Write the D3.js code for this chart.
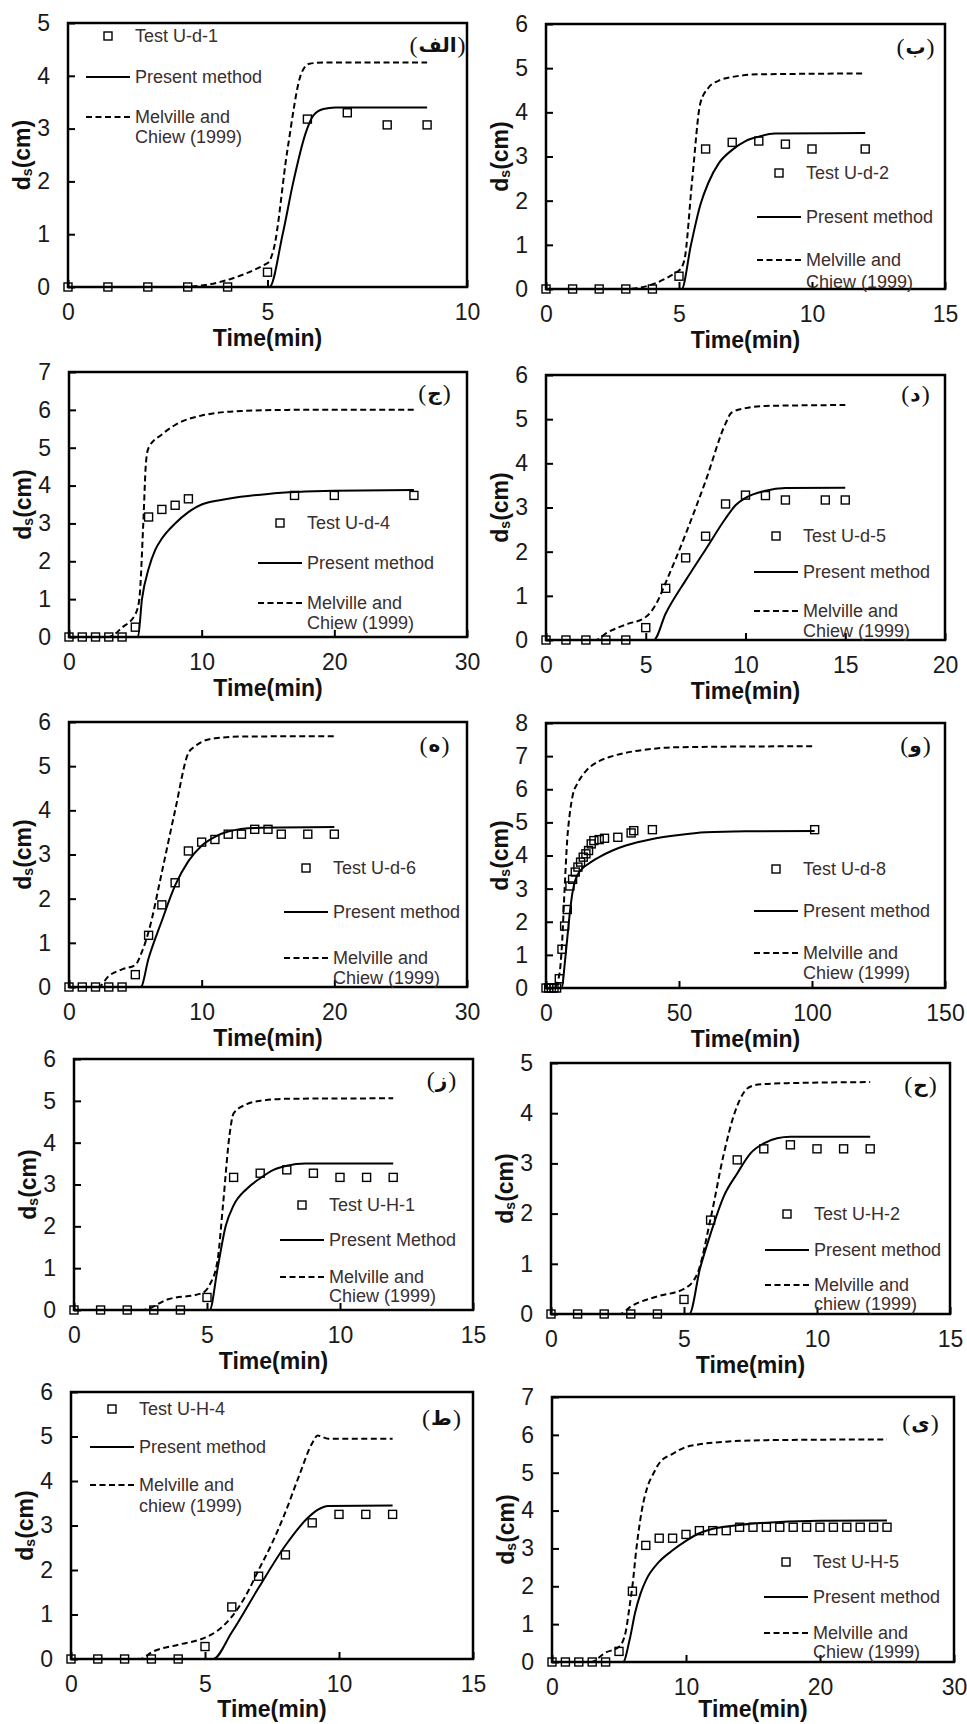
<!DOCTYPE html>
<html>
<head>
<meta charset="utf-8">
<script src="https://cdnjs.cloudflare.com/ajax/libs/d3/7.8.5/d3.min.js"></script>
<style>
  body { margin: 0; background: #fff; }
  text { font-family: "Liberation Sans", Arial, sans-serif; }
</style>
</head>
<body>
<svg id="fig"></svg>
<script>
// ---- data (time in min, depth in cm) ----
var p1Time = [0, 1, 2, 3, 4, 5, 6, 7, 8, 9];
var p1Test = [0, 0, 0, 0, 0, 0.28, 3.18, 3.3, 3.07, 3.07];
var p1Present = [[0,0],[5.05,0],[5.38,1],[5.65,2],[5.95,2.9],[6.15,3.25],[6.4,3.37],[6.7,3.4],[9,3.4]];
var p1Melville = [[0,0],[2.8,0],[5,0.45],[5.15,0.7],[5.5,2.6],[5.85,4.05],[6.05,4.23],[6.4,4.25],[9,4.25]];

var p2Time = [0, 1, 2, 3, 4, 5, 6, 7, 8, 9, 10, 12];
var p2Test = [0, 0, 0, 0, 0, 0.29, 3.17, 3.32, 3.35, 3.28, 3.17, 3.17];
var p2Present = [[0,0],[5.1,0],[5.45,1],[5.8,1.9],[6.1,2.4],[6.5,2.85],[7,3.15],[7.5,3.35],[8,3.45],[8.6,3.52],[12,3.53]];
var p2Melville = [[0,0],[3,0],[5,0.42],[5.2,0.65],[5.5,2.5],[5.8,4.2],[6.1,4.55],[6.5,4.72],[7,4.8],[8,4.86],[12,4.88]];

var p3Time = [0, 1, 2, 3, 4, 5, 6, 7, 8, 9, 17, 20, 26];
var p3Test = [0, 0, 0, 0, 0, 0.26, 3.17, 3.37, 3.48, 3.65, 3.74, 3.74, 3.74];
var p3Present = [[0,0],[5.2,0],[5.5,1],[6,1.8],[6.5,2.3],[7,2.6],[8,3],[9,3.3],[10,3.5],[12,3.65],[15,3.78],[20,3.86],[26,3.88]];
var p3Melville = [[0,0],[3,0],[4,0.25],[5,0.6],[5.3,1],[5.6,3],[5.8,4.6],[6,5],[7,5.35],[8,5.6],[10,5.85],[13,5.97],[17,6],[26,6]];

var p4Time = [0, 1, 2, 3, 4, 5, 6, 7, 8, 9, 10, 11, 12, 14, 15];
var p4Test = [0, 0, 0, 0, 0, 0.28, 1.17, 1.86, 2.35, 3.08, 3.28, 3.27, 3.17, 3.17, 3.17];
var p4Present = [[0,0],[5.4,0],[6,0.6],[7,1.35],[8,2.05],[9,2.75],[9.5,3.05],[10,3.22],[11,3.38],[12,3.44],[15,3.45]];
var p4Melville = [[0,0],[2.5,0],[3,0.15],[4,0.35],[5,0.52],[5.5,0.8],[6,1.3],[7,2.4],[8,3.6],[9,4.9],[9.3,5.15],[10,5.25],[11,5.3],[15,5.32]];

var p5Time = [0, 1, 2, 3, 4, 5, 6, 7, 8, 9, 10, 11, 12, 13, 14, 15, 16, 18, 20];
var p5Test = [0, 0, 0, 0, 0, 0.28, 1.17, 1.86, 2.36, 3.08, 3.28, 3.34, 3.46, 3.46, 3.57, 3.57, 3.46, 3.46, 3.46];
var p5Present = [[0,0],[5.4,0],[6,0.65],[7,1.5],[8,2.3],[9,2.85],[10,3.2],[11,3.4],[12,3.52],[14,3.6],[20,3.62]];
var p5Melville = [[0,0],[2.2,0],[3,0.25],[4,0.4],[5,0.5],[5.5,0.8],[6,1.25],[7,2.6],[8,4],[9,5.3],[9.5,5.45],[10,5.55],[11,5.63],[13,5.67],[20,5.68]];

var p6Time = [0, 1, 2, 3, 4, 5, 6, 7, 8, 9, 10, 11, 12, 13, 14, 15, 16, 17, 18, 20, 22, 27, 32, 33, 40, 101];
var p6Test = [0, 0, 0, 0, 0, 0.28, 1.17, 1.87, 2.37, 3.08, 3.28, 3.5, 3.65, 3.8, 3.95, 4.05, 4.15, 4.35, 4.45, 4.48, 4.52, 4.55, 4.68, 4.75, 4.78, 4.78];
var p6Present = [[0,0],[6,0],[7,0.7],[8,1.5],[9,2.3],[10,2.9],[11,3.25],[13,3.55],[16,3.75],[20,3.95],[25,4.15],[30,4.3],[40,4.5],[50,4.62],[60,4.7],[75,4.73],[101,4.74]];
var p6Melville = [[0,0],[3,0],[5,0.4],[6,1.3],[7,3],[8,4.5],[9,5.3],[10,5.8],[12,6.2],[15,6.55],[20,6.85],[25,7],[30,7.1],[40,7.22],[50,7.27],[101,7.3]];

var p7Time = [0, 1, 2, 3, 4, 5, 6, 7, 8, 9, 10, 11, 12];
var p7Test = [0, 0, 0, 0, 0, 0.3, 3.17, 3.27, 3.35, 3.27, 3.17, 3.17, 3.17];
var p7Present = [[0,0],[5.1,0],[5.4,1],[5.7,2],[6,2.5],[6.5,2.9],[7,3.15],[7.5,3.35],[8,3.45],[8.7,3.5],[12,3.5]];
var p7Melville = [[0,0],[2.6,0],[3.5,0.25],[4.8,0.4],[5.1,0.6],[5.4,1.2],[5.6,2.5],[5.85,4.2],[6,4.7],[6.5,4.92],[7,5],[8,5.05],[12,5.06]];

var p8Time = [0, 1, 2, 3, 4, 5, 6, 7, 8, 9, 10, 11, 12];
var p8Test = [0, 0, 0, 0, 0, 0.29, 1.87, 3.07, 3.29, 3.37, 3.29, 3.29, 3.29];
var p8Present = [[0,0],[5.2,0],[5.6,0.9],[6,1.6],[6.5,2.35],[7,2.8],[7.5,3.2],[8,3.4],[8.5,3.5],[9,3.53],[12,3.53]];
var p8Melville = [[0,0],[2.6,0],[3,0.15],[4,0.35],[5,0.5],[5.5,0.8],[6,1.9],[6.5,3.2],[6.9,4],[7.3,4.45],[7.6,4.55],[8,4.58],[9,4.6],[12,4.62]];

var p9Time = [0, 1, 2, 3, 4, 5, 6, 7, 8, 9, 10, 11, 12];
var p9Test = [0, 0, 0, 0, 0, 0.28, 1.17, 1.86, 2.34, 3.06, 3.25, 3.25, 3.25];
var p9Present = [[0,0],[5.3,0],[6,0.6],[7,1.6],[8,2.55],[8.8,3.15],[9.2,3.35],[9.6,3.44],[12,3.45]];
var p9Melville = [[0,0],[2.6,0],[3,0.15],[4,0.32],[5,0.48],[5.5,0.65],[6,0.95],[6.5,1.4],[7,2],[7.5,2.6],[8,3.3],[8.5,4.1],[9,4.85],[9.2,5.02],[9.6,4.95],[12,4.95]];

var p10Time = [0, 1, 2, 3, 4, 5, 6, 7, 8, 9, 10, 11, 12, 13, 14, 15, 16, 17, 18, 19, 20, 21, 22, 23, 24, 25];
var p10Test = [0, 0, 0, 0, 0, 0.28, 1.87, 3.08, 3.27, 3.27, 3.37, 3.47, 3.47, 3.47, 3.56, 3.56, 3.56, 3.56, 3.56, 3.56, 3.56, 3.56, 3.56, 3.56, 3.56, 3.56];
var p10Present = [[0,0],[5.3,0],[5.8,0.6],[6.2,1.3],[6.6,1.8],[7,2.15],[8,2.65],[9,2.95],[10,3.2],[11,3.4],[12,3.52],[14,3.62],[17,3.7],[20,3.73],[25,3.74]];
var p10Melville = [[0,0],[2.9,0],[4,0.25],[5,0.4],[5.5,0.8],[5.8,1.5],[6,2],[6.3,3],[6.7,4],[7.1,4.6],[7.6,5],[8,5.25],[9,5.5],[10,5.68],[11,5.75],[13,5.82],[16,5.86],[25,5.88]];

// tick labels
var ticks10 = [0, 5, 10], ticks15 = [0, 5, 10, 15], ticks20 = [0, 5, 10, 15, 20],
    ticks30 = [0, 10, 20, 30], ticks150 = [0, 50, 100, 150];

// panel letters and legend labels
var panelLetters = ["الف", "ب", "ج", "د", "ه", "و", "ز", "ح", "ط", "ی"];
var testNames = ["Test U-d-1", "Test U-d-2", "Test U-d-4", "Test U-d-5", "Test U-d-6",
                 "Test U-d-8", "Test U-H-1", "Test U-H-2", "Test U-H-4", "Test U-H-5"];
var presentNames = ["Present method", "Present method", "Present method", "Present method", "Present method",
                    "Present method", "Present Method", "Present method", "Present method", "Present method"];
var chiewNames = ["Chiew (1999)", "Chiew (1999)", "Chiew (1999)", "Chiew (1999)", "Chiew (1999)",
                  "Chiew (1999)", "Chiew (1999)", "chiew (1999)", "chiew (1999)", "Chiew (1999)"];

// ---- layout of the ten panels ----
var panels = [
  {l: 68, t: 23, r: 467, b: 287, xMax: 10, yMax: 5, xt: ticks10, time: p1Time, test: p1Test, pre: p1Present, mel: p1Melville,
   lab: [438, 45], leg: {x: 135, ys: [36, 77, 117, 137]}},
  {l: 546, t: 24, r: 945, b: 289, xMax: 15, yMax: 6, xt: ticks15, time: p2Time, test: p2Test, pre: p2Present, mel: p2Melville,
   lab: [916, 47], leg: {x: 806, ys: [173, 217, 260, 282]}},
  {l: 69, t: 372, r: 467, b: 637, xMax: 30, yMax: 7, xt: ticks30, time: p3Time, test: p3Test, pre: p3Present, mel: p3Melville,
   lab: [435, 393], leg: {x: 307, ys: [523, 563, 603, 623]}},
  {l: 546, t: 375, r: 945, b: 640, xMax: 20, yMax: 6, xt: ticks20, time: p4Time, test: p4Test, pre: p4Present, mel: p4Melville,
   lab: [916, 394], leg: {x: 803, ys: [536, 572, 611, 631]}},
  {l: 69, t: 722, r: 467, b: 987, xMax: 30, yMax: 6, xt: ticks30, time: p5Time, test: p5Test, pre: p5Present, mel: p5Melville,
   lab: [435, 745], leg: {x: 333, ys: [868, 912, 958, 978]}},
  {l: 546, t: 723, r: 945, b: 988, xMax: 150, yMax: 8, xt: ticks150, time: p6Time, test: p6Test, pre: p6Present, mel: p6Melville,
   lab: [916, 745], leg: {x: 803, ys: [869, 911, 953, 973]}},
  {l: 74, t: 1059, r: 473, b: 1310, xMax: 15, yMax: 6, xt: ticks15, time: p7Time, test: p7Test, pre: p7Present, mel: p7Melville,
   lab: [442, 1080], leg: {x: 329, ys: [1205, 1240, 1277, 1296]}},
  {l: 551, t: 1063, r: 950, b: 1314, xMax: 15, yMax: 5, xt: ticks15, time: p8Time, test: p8Test, pre: p8Present, mel: p8Melville,
   lab: [921, 1085], leg: {x: 814, ys: [1214, 1250, 1285, 1304]}},
  {l: 71, t: 1392, r: 473, b: 1659, xMax: 15, yMax: 6, xt: ticks15, time: p9Time, test: p9Test, pre: p9Present, mel: p9Melville,
   lab: [442, 1418], leg: {x: 139, ys: [1409, 1447, 1485, 1506]}},
  {l: 552, t: 1397, r: 954, b: 1662, xMax: 30, yMax: 7, xt: ticks30, time: p10Time, test: p10Test, pre: p10Present, mel: p10Melville,
   lab: [921, 1423], leg: {x: 813, ys: [1562, 1597, 1633, 1652]}}
];

var svg = d3.select("#fig").attr("width", 967).attr("height", 1724);
svg.append("rect").attr("width", 967).attr("height", 1724).attr("fill", "#fff");

var SQ = 8; // marker size

panels.forEach(function (p, i) {
  var x = d3.scaleLinear().domain([0, p.xMax]).range([p.l, p.r]);
  var y = d3.scaleLinear().domain([0, p.yMax]).range([p.b, p.t]);
  var g = svg.append("g");

  // axes with inward ticks
  var xa = g.append("g").attr("transform", "translate(0," + p.b + ")")
      .call(d3.axisBottom(x).tickValues(p.xt).tickSize(-7).tickPadding(17));
  var ya = g.append("g").attr("transform", "translate(" + p.l + ",0)")
      .call(d3.axisLeft(y).ticks(p.yMax).tickSize(-7).tickPadding(18));
  [xa, ya].forEach(function (a) {
    a.select(".domain").remove();
    a.selectAll(".tick line").attr("stroke", "#000").attr("stroke-width", 2);
    a.selectAll(".tick text").attr("fill", "#1a1a1a").style("font-size", "23px")
      .style("font-family", "'Liberation Sans', Arial, sans-serif");
  });

  // lines
  var line = d3.line().x(function (d) { return x(d[0]); }).y(function (d) { return y(d[1]); })
      .curve(d3.curveMonotoneX);
  g.append("path").datum(p.mel).attr("d", line).attr("fill", "none")
    .attr("stroke", "#000").attr("stroke-width", 2).attr("stroke-dasharray", "6,3.5");
  g.append("path").datum(p.pre).attr("d", line).attr("fill", "none")
    .attr("stroke", "#000").attr("stroke-width", 2);

  // frame
  g.append("rect").attr("x", p.l).attr("y", p.t).attr("width", p.r - p.l).attr("height", p.b - p.t)
    .attr("fill", "none").attr("stroke", "#000").attr("stroke-width", 2.5);

  // measured points
  g.selectAll("rect.pt").data(p.time).enter().append("rect").attr("class", "pt")
    .attr("x", function (d) { return x(d) - SQ / 2; })
    .attr("y", function (d, j) { return y(p.test[j]) - SQ / 2; })
    .attr("width", SQ).attr("height", SQ)
    .attr("fill", "none").attr("stroke", "#000").attr("stroke-width", 1.4);

  // axis titles
  g.append("text").attr("x", (p.l + p.r) / 2).attr("y", Math.min(p.b + 51, 1709))
    .attr("text-anchor", "middle").attr("dominant-baseline", "central")
    .style("font-size", "23px").style("font-weight", "bold").attr("fill", "#111")
    .text("Time(min)");
  var yt = g.append("text")
    .attr("transform", "translate(" + (p.l - 46) + "," + ((p.t + p.b) / 2) + ") rotate(-90)")
    .attr("text-anchor", "middle").attr("dominant-baseline", "central")
    .style("font-size", "23px").style("font-weight", "bold").attr("fill", "#111");
  yt.append("tspan").text("d");
  yt.append("tspan").text("s").style("font-size", "14px").attr("dy", 5);
  yt.append("tspan").text("(cm)").attr("dy", -5);

  // panel letter: "(" letter ")" laid out piece by piece so bidi cannot reorder them
  var lg = g.append("g");
  var parts = ["(", panelLetters[i], ")"], cx = 0;
  parts.forEach(function (s, k) {
    var t = lg.append("text").attr("x", cx).attr("y", 0).attr("dominant-baseline", "central")
      .style("font-family", k === 1 ? "'DejaVu Sans', 'Noto Sans', sans-serif" : "'Liberation Serif', serif")
      .style("font-size", k === 1 ? "20px" : "24px").style("font-weight", k === 1 ? "bold" : "normal")
      .attr("fill", "#111").text(s);
    cx += t.node().getComputedTextLength() + 1;
  });
  lg.attr("transform", "translate(" + (p.lab[0] - cx / 2) + "," + p.lab[1] + ")");

  // legend
  var L = p.leg, tc = "#3a2e2e";
  g.append("rect").attr("x", L.x - 27 - SQ / 2).attr("y", L.ys[0] - SQ / 2).attr("width", SQ).attr("height", SQ)
    .attr("fill", "none").attr("stroke", "#000").attr("stroke-width", 1.4);
  g.append("line").attr("x1", L.x - 49).attr("x2", L.x - 5).attr("y1", L.ys[1]).attr("y2", L.ys[1])
    .attr("stroke", "#000").attr("stroke-width", 2);
  g.append("line").attr("x1", L.x - 49).attr("x2", L.x - 5).attr("y1", L.ys[2]).attr("y2", L.ys[2])
    .attr("stroke", "#000").attr("stroke-width", 2).attr("stroke-dasharray", "6,3.5");
  var labels = [testNames[i], presentNames[i], "Melville and", chiewNames[i]];
  labels.forEach(function (s, k) {
    g.append("text").attr("x", L.x).attr("y", L.ys[k]).attr("dominant-baseline", "central")
      .style("font-size", "18px").attr("fill", tc).text(s);
  });
});
</script>
</body>
</html>
